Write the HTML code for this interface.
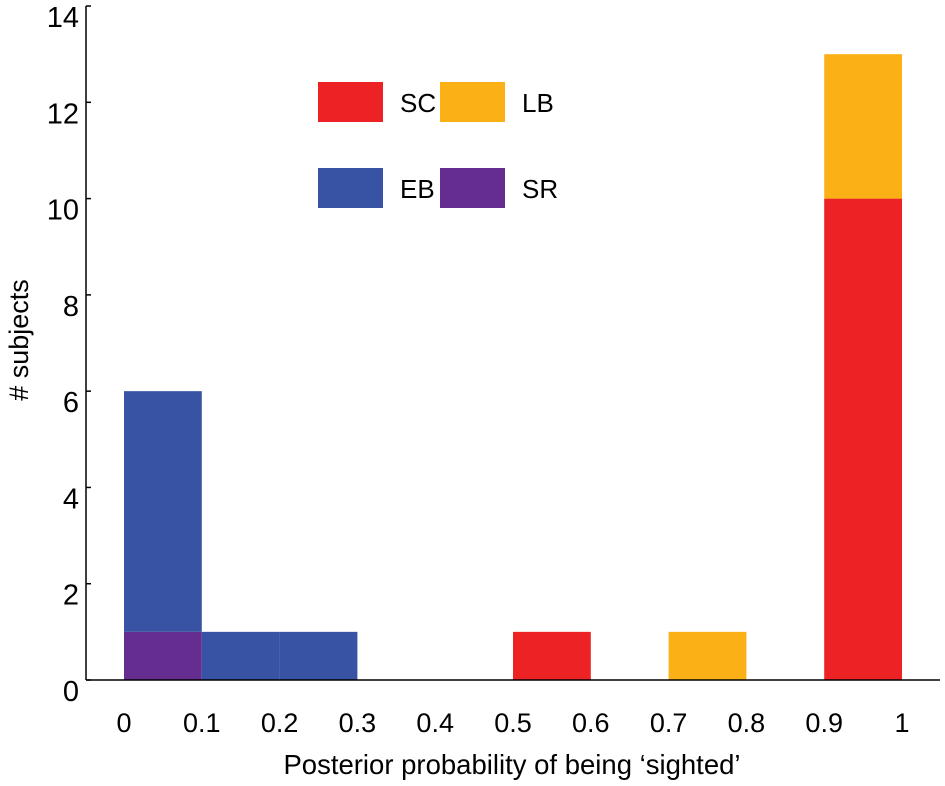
<!DOCTYPE html>
<html><head><meta charset="utf-8"><style>
body{margin:0;background:#fff;}
svg{display:block;font-family:"Liberation Sans",sans-serif;}
</style></head><body>
<svg id="chart" width="945" height="786">
<g id="marks"></g>
<g id="axes"></g>
<g id="legend"></g>
<text x="28" y="340" font-size="27" text-anchor="middle" transform="rotate(-90 28 340)"># subjects</text>
<text x="512" y="774" font-size="27.5" text-anchor="middle">Posterior probability of being ‘sighted’</text>
</svg>
<script>
const binStarts=[0,0.1,0.2,0.3,0.4,0.5,0.6,0.7,0.8,0.9];
const seriesNames=["SR","EB","SC","LB"];
const seriesColors=["#662d91","#3953a4","#ed2224","#fbb116"];
const srValues=[1,0,0,0,0,0,0,0,0,0];
const ebValues=[5,1,1,0,0,0,0,0,0,0];
const scValues=[0,0,0,0,0,1,0,0,0,10];
const lbValues=[0,0,0,0,0,0,0,1,0,3];
const yTicks=[0,2,4,6,8,10,12,14];
const xTicks=[0,0.1,0.2,0.3,0.4,0.5,0.6,0.7,0.8,0.9,1];
const xTickLabels=["0","0.1","0.2","0.3","0.4","0.5","0.6","0.7","0.8","0.9","1"];
const NS="http://www.w3.org/2000/svg";
const X=v=>124+v*778, Y=v=>680-v*48.14;
function mk(tag,attrs,parent){const e=document.createElementNS(NS,tag);for(const k in attrs)e.setAttribute(k,attrs[k]);parent.appendChild(e);return e;}
const marks=document.getElementById('marks');
const all=[srValues,ebValues,scValues,lbValues];
binStarts.forEach((b,i)=>{let base=0;all.forEach((s,j)=>{const v=s[i];if(v>0){const r=mk('rect',{x:X(b),y:Y(base+v),width:X(b+0.1)-X(b),height:Y(base)-Y(base+v),fill:seriesColors[j]},marks);

base+=v;}});});
const ax=document.getElementById('axes');
mk('line',{x1:86,y1:6,x2:86,y2:680,stroke:'#000','stroke-width':1.5},ax);
mk('line',{x1:86,y1:680,x2:940,y2:680,stroke:'#000','stroke-width':1.5},ax);
yTicks.forEach(t=>{mk('line',{x1:86,y1:Y(t),x2:91,y2:Y(t),stroke:'#000','stroke-width':1.5},ax);
const tx=mk('text',{x:79,y:Y(t)+21,'font-size':29,'text-anchor':'end'},ax);tx.textContent=t;

});
xTicks.forEach((t,i)=>{const tx=mk('text',{x:X(t),y:732,'font-size':27,'text-anchor':'middle'},ax);tx.textContent=xTickLabels[i];

});
const lg=document.getElementById('legend');
const legendOrder=[2,3,1,0];
legendOrder.forEach((j,k)=>{const lx=318+(k%2)*122, ly=82+Math.floor(k/2)*86;
const g=mk('g',{},lg);


mk('rect',{x:lx,y:ly,width:65,height:40,fill:seriesColors[j]},g);
const t=mk('text',{x:lx+82,y:ly+30,'font-size':26},g);t.textContent=seriesNames[j];});
</script>
</body></html>
